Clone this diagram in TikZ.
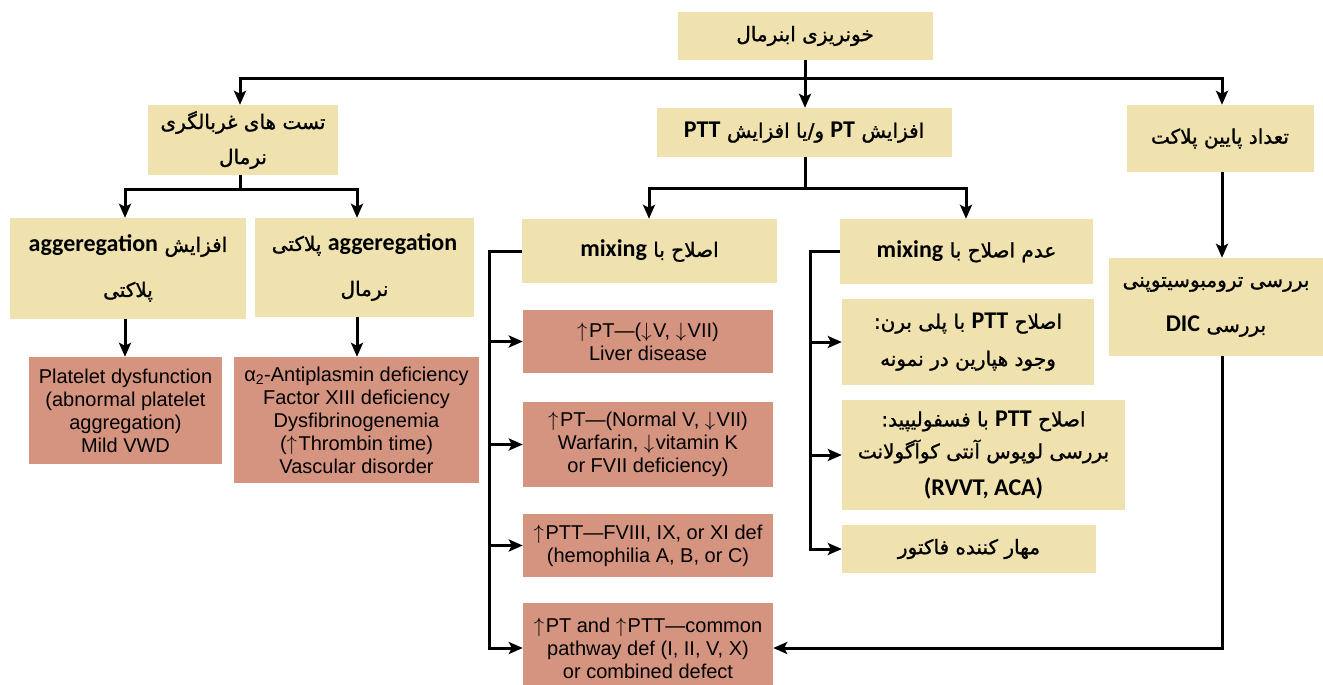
\documentclass[tikz,border=0pt]{standalone}
\usepackage{fontspec}
\setmainfont{Liberation Sans}
\newfontfamily\fafont[Script=Arabic, FakeBold=1.2]{DejaVu Sans}
\newfontfamily\latfont{Carlito}
\usetikzlibrary{arrows.meta}
\TeXXeTstate=1
\definecolor{boxyellow}{RGB}{240,226,174}
\definecolor{boxred}{RGB}{213,148,128}
\newcommand\fa[1]{\beginR #1\endR}
\newcommand\eng[1]{{\latfont\bfseries\fontsize{24}{28}\selectfont #1}}
\newcommand\incr{$\uparrow$\kern1.5pt}
\newcommand\decr{$\downarrow$\kern1.5pt}

\begin{document}
\begin{tikzpicture}[x=1pt, y=-1pt,
        ybox/.style={fill=boxyellow, inner sep=0pt, align=center, font=\fafont\fontsize{20}{35}\selectfont},
        rbox/.style={fill=boxred, inner sep=0pt, align=center, font=\fontsize{20}{23}\selectfont},
        line/.style={line width=3pt},
        arr/.style={line width=3pt, -{Stealth[length=14pt, width=12pt, inset=3pt]}}]
        \useasboundingbox (0,0) rectangle (1323,685);

        % Draw top nodes
        \node[ybox, minimum width=255pt, minimum height=48pt] (top) at (805,36) {\fa{خونریزی ابنرمال}};
        \node[ybox, minimum width=295pt, minimum height=49pt] (ptt) at (804,132.5) {\fa{افزایش \eng{PT} و/یا افزایش \eng{PTT}}};
        \node[ybox, minimum width=190pt, minimum height=70pt] (screen) at (243,140) {\fa{تست های غربالگری}\\\fa{نرمال}};
        \node[ybox, minimum width=187pt, minimum height=67pt] (lowplt) at (1220,138.5) {\fa{تعداد پایین پلاکت}};

        % Draw screening nodes
        \node[ybox, minimum width=236pt, minimum height=101pt] (incagg) at (128,268.5) {\fa{افزایش \eng{aggeregation}}\\[10pt]\fa{پلاکتی}};
        \node[ybox, minimum width=219pt, minimum height=99pt] (noragg) at (364.5,267.5) {\fa{\eng{aggeregation} پلاکتی}\\[10pt]\fa{نرمال}};
        \node[rbox, minimum width=193pt, minimum height=107pt] (pltdys) at (125.5,410.5) {Platelet dysfunction\\(abnormal platelet\\aggregation)\\Mild VWD};
        \node[rbox, minimum width=245pt, minimum height=126pt] (antipl) at (356.5,420) {α\textsubscript{2}-Antiplasmin deficiency\\Factor XIII deficiency\\Dysfibrinogenemia\\(\incr Thrombin time)\\Vascular disorder};

        % Draw mixing nodes
        \node[ybox, minimum width=255pt, minimum height=64pt] (mix) at (649.5,251) {\fa{اصلاح با \eng{mixing}}};
        \node[ybox, minimum width=253pt, minimum height=65pt] (nomix) at (966.5,251.5) {\fa{عدم اصلاح با \eng{mixing}}};
        \node[rbox, minimum width=250pt, minimum height=63pt] (liver) at (648,341.5) {\incr PT—(\decr V, \decr VII)\\Liver disease};
        \node[rbox, minimum width=250pt, minimum height=85pt] (warf) at (648,444.5) {\incr PT—(Normal V, \decr VII)\\Warfarin, \decr vitamin K\\or FVII deficiency)};
        \node[rbox, minimum width=250pt, minimum height=63pt] (hemo) at (648,545.5) {\incr PTT—FVIII, IX, or XI def\\(hemophilia A, B, or C)};
        \node[rbox, minimum width=250pt, minimum height=90pt] (common) at (648,648) {\incr PT and \incr PTT—common\\pathway def (I, II, V, X)\\or combined defect};
        \node[ybox, minimum width=252pt, minimum height=86pt] (heparin) at (968,342) {\fa{اصلاح \eng{PTT} با پلی برن:}\\[2pt]\fa{وجود هپارین در نمونه}};
        \node[ybox, minimum width=283pt, minimum height=110pt] (lupus) at (983.5,455) {\fa{اصلاح \eng{PTT} با فسفولیپید:}\\[-3pt]\fa{بررسی لوپوس آنتی کوآگولانت}\\[2pt]\eng{(RVVT, ACA)}};
        \node[ybox, minimum width=254pt, minimum height=48pt] (inhib) at (969,549) {\fa{مهار کننده فاکتور}};
        \node[ybox, minimum width=214pt, minimum height=98pt] (dic) at (1216,307) {\fa{بررسی ترومبوسیتوپنی}\\[10pt]\fa{بررسی \eng{DIC}}};

        % Draw connectors
        \coordinate (busL) at (240,79);
        \coordinate (busR) at (1222,79);
        \draw[arr] (top.south) -- (top.south |- ptt.north);
        \draw[arr] (top.south |- busL) -- (busL) -- (busL |- screen.north);
        \draw[arr] (top.south |- busL) -- (busR) -- (busR |- lowplt.north);

        \coordinate (scL) at (125,189);
        \coordinate (scR) at (357,189);
        \draw[line] (busL |- screen.south) -- (busL |- scL);
        \draw[arr] (busL |- scL) -- (scL) -- (scL |- incagg.north);
        \draw[arr] (busL |- scL) -- (scR) -- (scR |- noragg.north);
        \draw[arr] (scL |- incagg.south) -- (scL |- pltdys.north);
        \draw[arr] (scR |- noragg.south) -- (scR |- antipl.north);

        \coordinate (mxL) at (649,188);
        \coordinate (mxR) at (966,188);
        \draw[line] (top.south |- ptt.south) -- (top.south |- mxL);
        \draw[arr] (top.south |- mxL) -- (mxL) -- (mxL |- mix.north);
        \draw[arr] (top.south |- mxL) -- (mxR) -- (mxR |- nomix.north);

        \coordinate (mixbus) at (489,252);
        \draw[arr] (mix.west) -- (mix.west -| mixbus) -- (mixbus |- common.west) -- (common.west);
        \foreach \n in {liver,warf,hemo}
            \draw[arr] (mixbus |- \n.west) -- (\n.west);

        \coordinate (nmbus) at (810,252);
        \draw[arr] (nomix.west) -- (nomix.west -| nmbus) -- (nmbus |- inhib.west) -- (inhib.west);
        \foreach \n in {heparin,lupus}
            \draw[arr] (nmbus |- \n.west) -- (\n.west);

        \draw[arr] (busR |- lowplt.south) -- (busR |- dic.north);
        \draw[arr] (busR |- dic.south) -- (busR |- common.east) -- (common.east);
    \end{tikzpicture}
\end{document}
